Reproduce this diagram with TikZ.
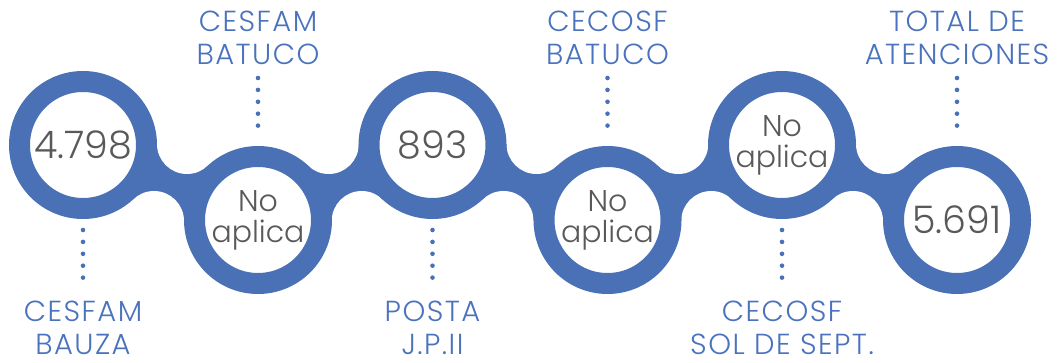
\documentclass[tikz,border=0pt]{standalone}
\usepackage{fontspec}
\setmainfont{Poppins}
\newfontfamily\poplight{Poppins Light}
\definecolor{ringblue}{HTML}{4A71B6}
\definecolor{labelblue}{HTML}{4A72BD}
\definecolor{numgray}{HTML}{595959}
\begin{document}
\begin{tikzpicture}[x=1pt,y=-1pt,
  ring/.style={circle,draw=ringblue,line width=21pt,fill=white,minimum size=127pt,inner sep=0pt,
    text=numgray,align=center},
  bignum/.style={font=\poplight\fontsize{38}{38}\selectfont},
  smalltxt/.style={font=\poplight\fontsize{30}{31}\selectfont},
  lbl/.style={text=labelblue,align=center,anchor=base,inner sep=0pt,
    font=\poplight\addfontfeatures{LetterSpace=5}\fontsize{29}{33}\selectfont},
  dotline/.style={draw=ringblue,line width=4.6pt,line cap=round,dash pattern=on 0pt off 11.9pt},
  bandfill/.style={fill=ringblue},
  fillet/.style={fill=white}]
\useasboundingbox (0,0) rectangle (1059,363);
% centres
\coordinate (p1) at (83,145);
\coordinate (p2) at (258,220);
\coordinate (p3) at (432.5,145);
\coordinate (p4) at (607.5,220);
\coordinate (p5) at (782,145);
\coordinate (p6) at (957,220);
% fillet centres
\coordinate (f1u) at (187,144);    \coordinate (f1l) at (154,221);
\coordinate (f2u) at (328.75,144); \coordinate (f2l) at (361.75,221);
\coordinate (f3u) at (536.5,144);  \coordinate (f3l) at (503.5,221);
\coordinate (f4u) at (678.25,144); \coordinate (f4l) at (711.25,221);
\coordinate (f5u) at (886,144);    \coordinate (f5l) at (853,221);
% band
\path[bandfill] (p1)--(f1u)--(p2)--(f1l)--cycle;
\path[bandfill] (p2)--(f2u)--(p3)--(f2l)--cycle;
\path[bandfill] (p3)--(f3u)--(p4)--(f3l)--cycle;
\path[bandfill] (p4)--(f4u)--(p5)--(f4l)--cycle;
\path[bandfill] (p5)--(f5u)--(p6)--(f5l)--cycle;
\foreach \f in {f1u,f1l,f2u,f2l,f3u,f3l,f4u,f4l,f5u,f5l}
  \path[fillet] (\f) circle[radius=30];
% rings
\node[ring,bignum] (r1) at (p1) {4.798};
\node[ring,smalltxt] (r2) at (p2) {No\\aplica};
\node[ring,bignum] (r3) at (p3) {893};
\node[ring,smalltxt] (r4) at (p4) {No\\aplica};
\node[ring,smalltxt] (r5) at (p5) {No\\aplica};
\node[ring,bignum] (r6) at (p6) {5.691};
% labels (anchor = baseline of last line)
\node[lbl] (l2) at (258,65) {CESFAM\\BATUCO};
\node[lbl] (l4) at (607.5,65) {CECOSF\\BATUCO};
\node[lbl] (l6) at (957,65) {TOTAL DE\\ATENCIONES};
\node[lbl] (l1) at (83,354) {CESFAM\\BAUZA};
\node[lbl] (l3) at (432.5,354) {POSTA\\J.P.II};
\node[lbl] (l5) at (782,354) {CECOSF\\SOL DE SEPT.};
% dotted leaders
\coordinate (d2a) at (258,78);   \coordinate (d2b) at (258,126.5);
\coordinate (d4a) at (607.5,78); \coordinate (d4b) at (607.5,126.5);
\coordinate (d6a) at (957,78);   \coordinate (d6b) at (957,126.5);
\coordinate (d1a) at (83,230);   \coordinate (d1b) at (83,278.5);
\coordinate (d3a) at (432.5,230);\coordinate (d3b) at (432.5,278.5);
\coordinate (d5a) at (782,230);  \coordinate (d5b) at (782,278.5);
\foreach \n in {1,...,6}
  \draw[dotline] (d\n a) -- (d\n b);
\end{tikzpicture}
\end{document}
